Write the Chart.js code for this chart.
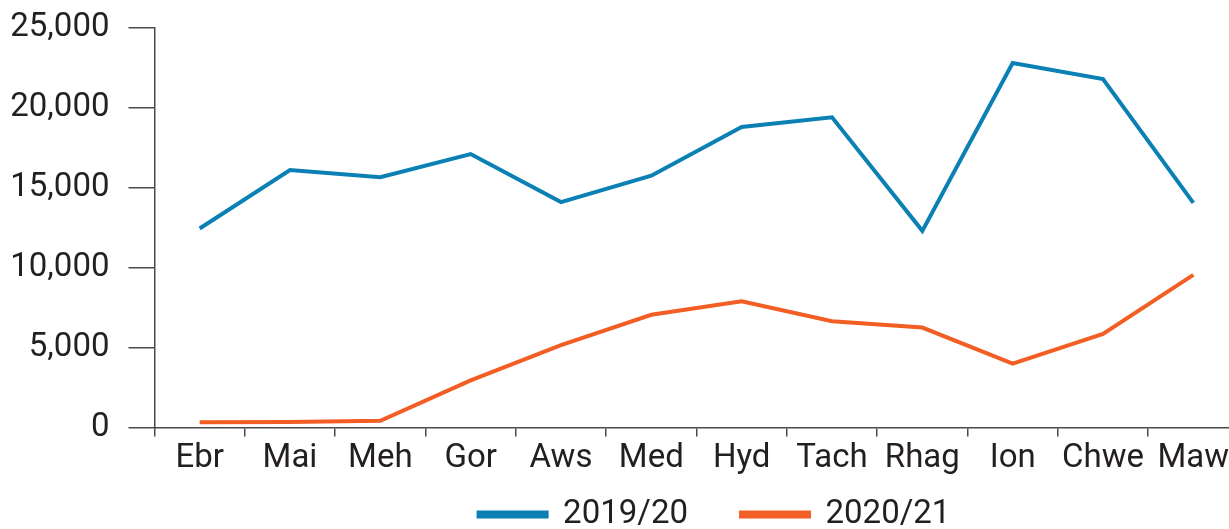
<!DOCTYPE html>
<html>
<head>
<meta charset="utf-8">
<script src="https://cdn.jsdelivr.net/npm/chart.js@4/dist/chart.umd.min.js"></script>
<style>
    html, body { margin: 0; padding: 0; background: #fff; overflow: hidden; }
    #wrap { width: 1229px; height: 529px; overflow: hidden; position: relative; }
    #box { width: 1429px; height: 552px; position: absolute; left: 0; top: -11px; }
</style>
</head>
<body>
<div id="wrap"><div id="box"><canvas id="chart"></canvas></div></div>
<script>
// months, April to March
var months = ['Ebr', 'Mai', 'Meh', 'Gor', 'Aws', 'Med', 'Hyd', 'Tach', 'Rhag', 'Ion', 'Chwe', 'Maw'];
var series_names = ['2019/20', '2020/21'];
var values_1920 = [12450, 16100, 15650, 17100, 14100, 15750, 18800, 19400, 12300, 22800, 21800, 14050];
var values_2021 = [330, 350, 420, 2950, 5150, 7050, 7900, 6650, 6250, 4000, 5850, 9550];
var y_ticks = [0, 5000, 10000, 15000, 20000, 25000];

var axisColor = '#4a4a4a';
var textColor = '#231f20';

Chart.defaults.font.family = 'Roboto';
Chart.defaults.font.size = 33;
Chart.defaults.color = textColor;

var ctx = document.getElementById('chart');

var chart = new Chart(ctx, {
    type: 'line',
    data: {
        labels: months,
        datasets: [{
            label: series_names[0],
            data: values_1920,
            borderColor: '#0a80b5',
            backgroundColor: '#0a80b5',
            borderWidth: 4,
            pointRadius: 0,
            tension: 0
        }, {
            label: series_names[1],
            data: values_2021,
            borderColor: '#f25e24',
            backgroundColor: '#f25e24',
            borderWidth: 4,
            pointRadius: 0,
            tension: 0
        }]
    },
    options: {
        responsive: true,
        maintainAspectRatio: false,
        animation: false,
        locale: 'en-US',
        layout: {
            padding: { top: 16, left: 0, right: 0, bottom: 0 }
        },
        plugins: {
            tooltip: { enabled: false },
            legend: {
                position: 'bottom',
                labels: {
                    boxWidth: 68,
                    boxHeight: 4,
                    padding: 53,
                    font: { size: 33 }
                }
            }
        },
        scales: {
            x: {
                offset: true,
                grid: {
                    offset: true,
                    drawOnChartArea: false,
                    tickLength: 9,
                    color: axisColor,
                    lineWidth: 1.5
                },
                border: { color: axisColor, width: 1.5 },
                ticks: { padding: 2, maxRotation: 0, autoSkip: false },
                afterFit: function(scale) {
                    // the legend's top padding overlaps the labels, so keep the box short
                    // and stop the labels from being clipped to it
                    scale.height = 17.5;
                    scale._computeLabelArea = function() { return undefined; };
                }
            },
            y: {
                min: 0,
                max: 25000,
                afterBuildTicks: function(scale) {
                    scale.ticks = y_ticks.map(v => ({ value: v }));
                },
                grid: {
                    drawOnChartArea: false,
                    tickLength: 26,
                    color: axisColor,
                    lineWidth: 1.5
                },
                border: { color: axisColor, width: 1.5 },
                ticks: { padding: 19 },
                afterFit: function(scale) { scale.width = 154.5; }
            },
            // empty space on the right so the legend sits under the plot
            spacer: {
                position: 'right',
                display: true,
                grid: { display: false },
                border: { display: false },
                ticks: { display: false },
                afterFit: function(scale) { scale.width = 190.5; }
            }
        }
    }
});
</script>
</body>
</html>
